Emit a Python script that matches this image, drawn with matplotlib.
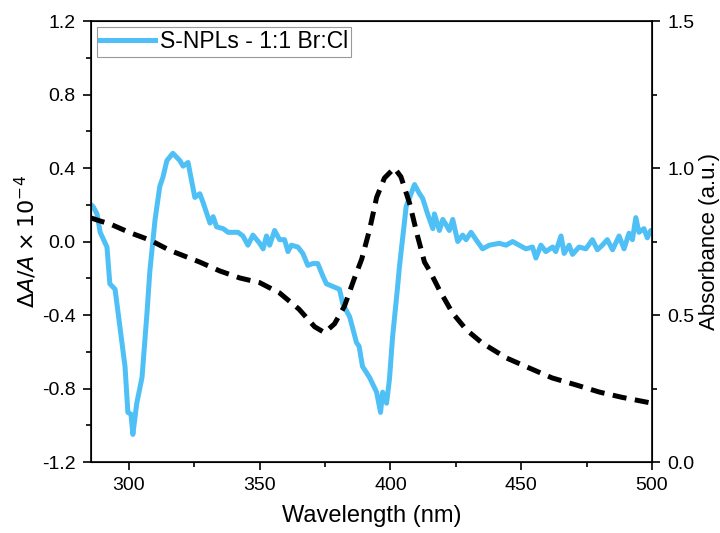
import matplotlib
matplotlib.use('Agg')
import matplotlib.pyplot as plt
from matplotlib.ticker import MultipleLocator

plt.rcParams['font.family'] = ['Liberation Sans', 'DejaVu Sans']
plt.rcParams['axes.unicode_minus'] = False

# transient absorption (left axis)
wl_ta = [285.5, 286.3, 287.8, 289.0, 291.6, 292.7, 294.7, 296.6, 298.5, 299.6,
         300.8, 301.5, 303.0, 305.0, 306.9, 308.0, 310.0, 311.8, 313.0, 314.5,
         316.8, 319.5, 320.7, 322.6, 325.2, 327.1, 328.4, 331.0, 332.2, 333.5,
         336.0, 337.9, 341.7, 343.6, 345.5, 347.4, 350.0, 351.3, 352.6, 353.8,
         355.7, 357.6, 359.5, 360.8, 362.1, 364.6, 366.5, 368.4, 370.3, 372.2,
         374.2, 375.5, 378.0, 380.5, 381.8, 384.4, 387.0, 388.0, 389.3, 392.0,
         394.7, 396.2, 397.0, 398.5, 399.6, 400.8, 402.7, 403.4, 406.0, 409.2,
         411.1, 412.3, 414.2, 416.2, 416.8, 418.7, 420.0, 421.3, 422.5, 423.8,
         425.7, 427.6, 428.9, 430.8, 432.7, 435.2, 437.8, 441.6, 444.2, 446.7,
         449.2, 451.8, 454.3, 455.6, 457.5, 459.4, 462.0, 463.2, 465.2, 466.4,
         468.3, 469.6, 472.1, 474.7, 477.2, 479.1, 481.0, 482.9, 484.9, 487.4,
         489.3, 491.2, 492.5, 493.8, 495.0, 496.9, 498.2, 499.5, 500.0]
dA = [0.20, 0.19, 0.15, 0.05, -0.03, -0.23, -0.26, -0.47, -0.68, -0.93,
      -0.94, -1.05, -0.88, -0.74, -0.39, -0.16, 0.12, 0.30, 0.35, 0.44,
      0.48, 0.44, 0.41, 0.43, 0.24, 0.26, 0.21, 0.10, 0.135, 0.08,
      0.07, 0.05, 0.05, 0.03, -0.02, 0.035, -0.01, -0.04, 0.03, -0.02,
      0.06, 0.01, 0.01, -0.055, -0.02, -0.03, -0.065, -0.13, -0.12, -0.12,
      -0.19, -0.23, -0.245, -0.26, -0.34, -0.41, -0.55, -0.57, -0.68, -0.74,
      -0.82, -0.93, -0.82, -0.88, -0.75, -0.52, -0.25, -0.14, 0.19, 0.31,
      0.26, 0.235, 0.15, 0.07, 0.15, 0.06, 0.12, 0.09, 0.06, 0.12,
      0.00, 0.035, 0.01, 0.05, 0.01, -0.04, -0.02, -0.01, -0.02, 0.00,
      -0.02, -0.04, -0.03, -0.09, -0.02, -0.055, -0.03, -0.055, 0.03, -0.065,
      -0.02, -0.07, -0.03, -0.04, 0.01, -0.045, -0.02, 0.01, -0.045, 0.03,
      -0.04, 0.045, 0.01, 0.13, 0.05, 0.07, 0.02, 0.06, 0.06]

# steady-state absorbance (right axis)
wl_abs = [285.5, 288.9, 292.7, 300.4, 308.0, 315.6, 327.1, 334.7, 342.4, 350.0,
          357.6, 365.0, 371.0, 374.8, 378.6, 382.4, 386.0, 389.0, 392.0, 394.7,
          397.7, 401.5, 404.0, 407.3, 410.3, 413.0, 415.0, 418.7, 423.7, 429.0,
          435.0, 444.3, 453.0, 461.8, 471.0, 479.8, 488.5, 500.0]
absorb = [0.83, 0.82, 0.81, 0.78, 0.755, 0.72, 0.68, 0.65, 0.626, 0.61,
          0.575, 0.52, 0.46, 0.44, 0.47, 0.53, 0.62, 0.69, 0.79, 0.90,
          0.966, 1.0, 0.97, 0.88, 0.77, 0.68, 0.65, 0.585, 0.507, 0.45,
          0.405, 0.354, 0.32, 0.286, 0.262, 0.238, 0.22, 0.20]

fig = plt.figure(figsize=(7.2, 5.33), dpi=100)
ax = fig.add_axes([0.1264, 0.1332, 0.7792, 0.8274])
ax.plot(wl_ta, dA, color='#4FC0F5', lw=3.6, label='S-NPLs - 1:1 Br:Cl')
ax.set_xlim(285.5, 500)
ax.set_ylim(-1.2, 1.2)
ax.xaxis.set_major_locator(MultipleLocator(50))
ax.xaxis.set_minor_locator(MultipleLocator(25))
ax.yaxis.set_major_locator(MultipleLocator(0.4))
ax.yaxis.set_minor_locator(MultipleLocator(0.2))
ax.yaxis.set_major_formatter(plt.FormatStrFormatter('%.1f'))
ax.tick_params(which='both', direction='out', labelsize=14, width=1.2)
ax.tick_params(which='major', length=6, pad=5)
ax.tick_params(which='minor', length=3.5)
ax.set_xlabel('Wavelength (nm)', fontsize=17, labelpad=8)
ax.set_ylabel(r'$\Delta A/A\times10^{-4}$', fontsize=16, labelpad=2)
for s in ax.spines.values():
    s.set_linewidth(1.2)

ax2 = ax.twinx()
ax2.plot(wl_abs, absorb, color='black', lw=3.6, ls=(0, (2.8, 1.7)))
ax2.set_ylim(0, 1.5)
ax2.yaxis.set_major_locator(MultipleLocator(0.5))
ax2.yaxis.set_minor_locator(MultipleLocator(0.25))
ax2.yaxis.set_major_formatter(plt.FormatStrFormatter('%.1f'))
ax2.tick_params(which='both', direction='out', labelsize=14, width=1.2)
ax2.tick_params(which='major', length=6, pad=5)
ax2.tick_params(which='minor', length=3.5)
ax2.set_ylabel('Absorbance (a.u.)', fontsize=16, labelpad=3)

leg = ax.legend(loc='upper left', fontsize=16.5, frameon=True, fancybox=False,
                edgecolor='#808080', handlelength=2.4, borderpad=0.15,
                borderaxespad=0.25, handletextpad=0.2)
leg.get_frame().set_linewidth(0.8)

fig.savefig('out.png', dpi=100)
